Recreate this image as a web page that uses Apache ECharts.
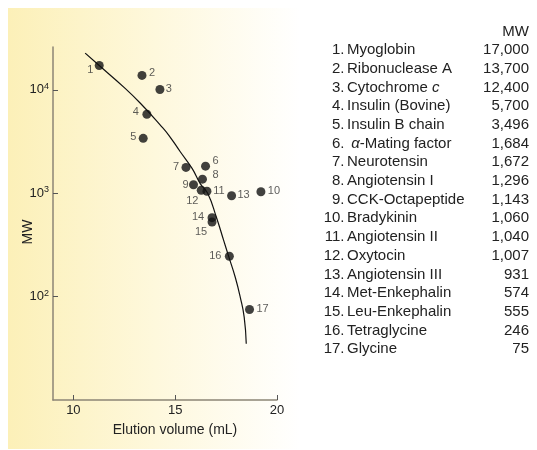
<!DOCTYPE html>
<html>
<head>
<meta charset="utf-8">
<script src="https://cdn.jsdelivr.net/npm/echarts@6/dist/echarts.min.js"></script>
<style>
html,body{margin:0;padding:0;background:#fff}
#chart{width:537px;height:450px}
</style>
</head>
<body>
<div id="chart"></div>
<script>
// points as plotted (elution volume mL, MW)
var pointIds = ['1','2','3','4','5','6','7','8','9','10','11','12','13','14','15','16','17'];
var pointVolume = [11.27, 13.37, 14.25, 13.61, 13.43, 16.49, 15.53, 16.34, 15.90, 19.21, 16.56, 16.28, 17.77, 16.81, 16.81, 17.66, 18.65];
var pointMW = [17200, 13800, 10100, 5810, 3400, 1830, 1780, 1370, 1210, 1035, 1045, 1070, 946, 581, 526, 246, 75];

// calibration curve
var curveVolume = [10.58, 11.27, 12.53, 13.29, 14.27, 14.68, 15.25, 15.83, 16.23, 16.60, 17.02, 17.38, 17.63, 17.95, 18.20, 18.39, 18.49];
var curveMW = [22700, 17200, 10400, 7430, 4570, 3660, 2520, 1740, 1240, 993, 589, 350, 244, 154, 98, 63, 35];

// table on the right
var proteinNames = ['Myoglobin', 'Ribonuclease A', 'Cytochrome {i|c}', 'Insulin (Bovine)', 'Insulin B chain',
  ' {i|\u03b1}-Mating factor', 'Neurotensin', 'Angiotensin I', 'CCK-Octapeptide', 'Bradykinin',
  'Angiotensin II', 'Oxytocin', 'Angiotensin III', 'Met-Enkephalin', 'Leu-Enkephalin', 'Tetraglycine', 'Glycine'];
var proteinMW = ['17,000', '13,700', '12,400', '5,700', '3,496', '1,684', '1,672', '1,296', '1,143', '1,060',
  '1,040', '1,007', '931', '574', '555', '246', '75'];

var xTicks = [10, 15, 20];
var yTicks = [100, 1000, 10000];

// where each number sits next to its dot (px)
var labelOffset = [[-9,4],[10,-2],[9,0],[-11,-2],[-10,-1],[10,-5],[-10,0],[13,-4],[-8,0],[13,-1],
  [12,0],[-9,11],[12,-1],[-14,-1],[-11,10],[-14,0],[13,-1]];

var FONT = '"Liberation Sans", Arial, Helvetica, sans-serif';

var scatterData = [];
for (var i = 0; i < pointIds.length; i++) {
  scatterData.push({
    value: [pointVolume[i], pointMW[i]],
    label: { offset: labelOffset[i] }
  });
}
var curveData = [];
for (var j = 0; j < curveVolume.length; j++) {
  curveData.push([curveVolume[j], curveMW[j]]);
}

var graphics = [{
  type: 'rect',
  z: -10,
  shape: { x: 8, y: 8, width: 292, height: 441 },
  style: {
    fill: new echarts.graphic.LinearGradient(0, 0, 1, 0, [
      { offset: 0, color: '#fcf0b8' },
      { offset: 0.5, color: '#fef8dc' },
      { offset: 1, color: '#ffffff' }
    ])
  },
  silent: true
}, {
  type: 'text', x: 529, y: 32,
  style: { text: 'MW', align: 'right', verticalAlign: 'middle', fontSize: 15, fontFamily: FONT, fill: '#222' }
}];
var richI = {
  i: { fontStyle: 'italic', fontSize: 15, fontFamily: FONT, fill: '#222' }
};
for (var k = 0; k < proteinNames.length; k++) {
  var y = 50 + 18.7 * k;
  graphics.push({
    type: 'text', x: 344.5, y: y,
    style: { text: (k + 1) + '.', align: 'right', verticalAlign: 'middle', fontSize: 15, fontFamily: FONT, fill: '#222' }
  });
  graphics.push({
    type: 'text', x: 347, y: y,
    style: { text: proteinNames[k], rich: richI, align: 'left', verticalAlign: 'middle', fontSize: 15, fontFamily: FONT, fill: '#222' }
  });
  graphics.push({
    type: 'text', x: 529, y: y,
    style: { text: proteinMW[k], align: 'right', verticalAlign: 'middle', fontSize: 15, fontFamily: FONT, fill: '#222' }
  });
}

var option = {
  animation: false,
  textStyle: { fontFamily: FONT },
  graphic: graphics,
  grid: { left: 53, top: 47, width: 224, height: 353 },
  xAxis: {
    type: 'value',
    min: 9,
    max: 20,
    name: 'Elution volume (mL)',
    nameLocation: 'middle',
    nameGap: 23,
    nameMoveOverlap: false,
    nameTextStyle: { fontSize: 14, color: '#222', padding: [0, 0, 0, 20] },
    axisLine: { lineStyle: { color: '#8c8576', width: 1.5 } },
    axisTick: { inside: true, length: 5, customValues: xTicks, lineStyle: { color: '#555', width: 1 } },
    axisLabel: { customValues: xTicks, fontSize: 13, color: '#222', margin: 4 },
    splitLine: { show: false }
  },
  yAxis: {
    type: 'log',
    logBase: 10,
    min: 10,
    max: 26000,
    name: 'MW',
    nameLocation: 'middle',
    nameGap: 18,
    nameMoveOverlap: false,
    nameTextStyle: { fontSize: 14, color: '#222', padding: [0, 17, 0, 0] },
    axisLine: { show: true, lineStyle: { color: '#8c8576', width: 1.5 } },
    axisTick: { inside: true, length: 5, customValues: yTicks, lineStyle: { color: '#555', width: 1 } },
    axisLabel: {
      customValues: yTicks,
      margin: 4,
      formatter: function (v) {
        return '{b|10}{s|' + Math.round(Math.log10(v)) + '}';
      },
      rich: {
        b: { fontSize: 13, color: '#222', lineHeight: 16, fontFamily: FONT },
        s: { fontSize: 9, color: '#222', lineHeight: 16, verticalAlign: 'top', fontFamily: FONT }
      }
    },
    splitLine: { show: false }
  },
  series: [{
    type: 'line',
    data: curveData,
    smooth: 0.5,
    showSymbol: false,
    lineStyle: { color: '#111', width: 1.2 },
    z: 2
  }, {
    type: 'scatter',
    data: scatterData,
    symbol: 'circle',
    symbolSize: 9,
    itemStyle: { color: '#111' },
    label: {
      show: true,
      position: 'inside',
      formatter: function (p) { return pointIds[p.dataIndex]; },
      fontSize: 11,
      color: '#333',
      textBorderWidth: 0
    },
    z: 3
  }]
};

echarts.init(document.getElementById('chart')).setOption(option);
</script>
</body>
</html>
